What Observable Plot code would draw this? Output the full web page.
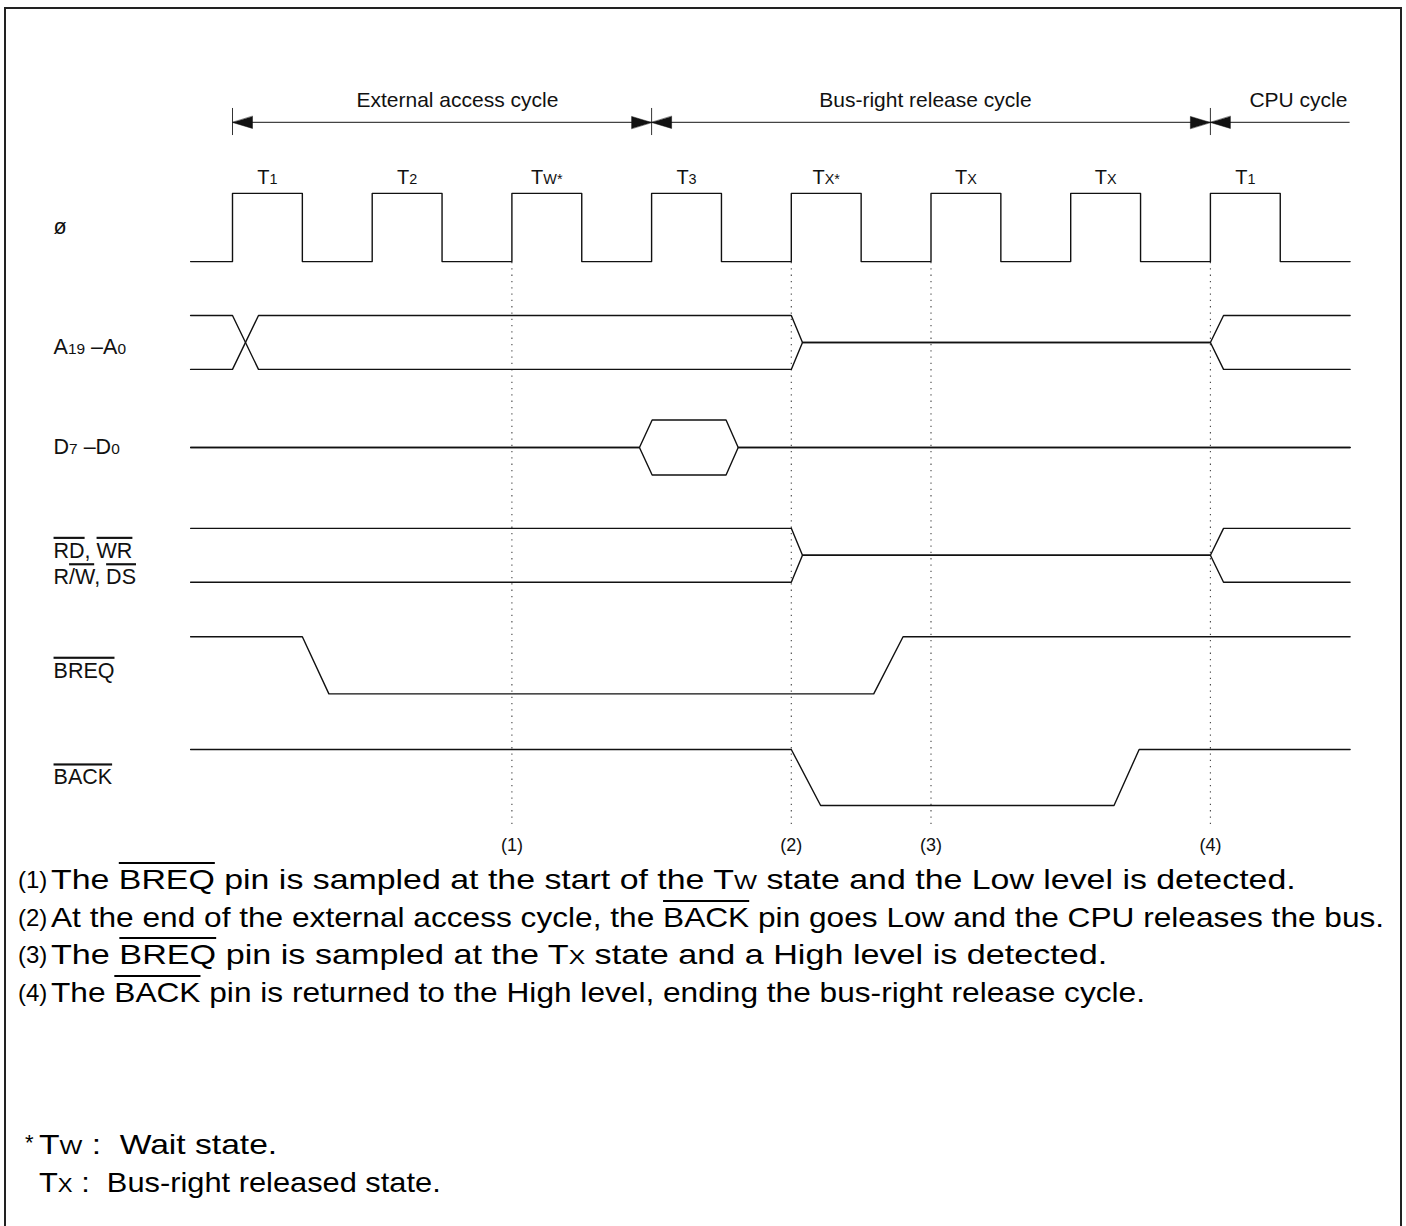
<!DOCTYPE html>
<html><head><meta charset="utf-8">
<script src="https://cdn.jsdelivr.net/npm/d3@7"></script>
<script src="https://cdn.jsdelivr.net/npm/@observablehq/plot@0.6"></script>
<style>
body{margin:0;background:#fff;font-family:"Liberation Sans",Arial,sans-serif;color:#000;}
#frame{position:absolute;left:4px;top:7px;width:1398px;height:1260px;border:2px solid #222;box-sizing:border-box;}
#chart{position:absolute;left:0;top:0;}
#notes{position:absolute;left:18px;top:861px;width:1380px;}
#foot{position:absolute;left:25px;top:1126px;width:1300px;}
.ln{position:relative;height:37.7px;line-height:37.7px;white-space:pre;}
.num{position:absolute;left:0;top:0;font-size:24px;}
.txt{position:absolute;top:0;font-size:28px;transform-origin:0 50%;}
.star{position:absolute;left:0;top:-2px;font-size:22px;}
.ov{text-decoration:overline;text-decoration-thickness:1.5px;}
.sm{font-size:0.72em;}
</style></head><body>
<div id="frame"></div>
<div id="chart"></div>
<div id="notes"></div>
<div id="foot"></div>
<script>
// ---- data (time in clock periods, rise of first T1 = 0) ----
const tStart = -0.3, tEnd = 8.0;
const clockRises = [0, 1, 2, 3, 4, 5, 6, 7];
const clockFalls = [0.5, 1.5, 2.5, 3.5, 4.5, 5.5, 6.5, 7.5];
const stateLabels = ["T~1~", "T~2~", "T~W*~", "T~3~", "T~X*~", "T~X~", "T~X~", "T~1~"];
const cycleNames = ["External access cycle", "Bus-right release cycle", "CPU cycle"];
const cycleBounds = [0, 3, 7];          // cycle boundaries (tick marks)
const cycleLabelT = [1.61, 4.96, 7.63]; // label centres
const signalNames = ["ø", "A~19~ –A~0~", "D~7~ –D~0~", "^RD^, ^WR^", "^BREQ^", "^BACK^"];
const signalNames2 = ["", "", "", "R^/W^, ^DS^", "", ""];
const laneCenter = [0, 1.045, 2.0, 2.98, 3.98, 5.0];
const laneSwing = [0.31, 0.245, 0.25, 0.245, 0.26, 0.255];
// level: 1 high, 0 low, 0.5 floating/middle
const addrHi = [[-0.3, 1], [0, 1], [0.186, 0], [4.0, 0], [4.08, 0.5], [7.0, 0.5], [7.094, 0], [8.0, 0]];
const addrLo = [[-0.3, 0], [0, 0], [0.186, 1], [4.0, 1], [4.08, 0.5], [7.0, 0.5], [7.094, 1], [8.0, 1]];
const dataHi = [[-0.3, 0.5], [2.913, 0.5], [3.004, 1], [3.533, 1], [3.62, 0.5], [8.0, 0.5]];
const dataLo = [[-0.3, 0.5], [2.913, 0.5], [3.004, 0], [3.533, 0], [3.62, 0.5], [8.0, 0.5]];
const strobeHi = [[-0.3, 1], [4.0, 1], [4.08, 0.5], [7.0, 0.5], [7.094, 1], [8.0, 1]];
const strobeLo = [[-0.3, 0], [4.0, 0], [4.08, 0.5], [7.0, 0.5], [7.094, 0], [8.0, 0]];
const breq = [[-0.3, 1], [0.5, 1], [0.69, 0], [4.59, 0], [4.8, 1], [8.0, 1]];
const back = [[-0.3, 1], [4.0, 1], [4.21, 0], [6.31, 0], [6.49, 1], [8.0, 1]];
const markerT = [2, 4, 5, 7];
const markerLabels = ["(1)", "(2)", "(3)", "(4)"];
const noteNums = ["(1)", "(2)", "(3)", "(4)"];
const notes = [
  "The ^BREQ^ pin is sampled at the start of the T~W~ state and the Low level is detected.",
  "At the end of the external access cycle, the ^BACK^ pin goes Low and the CPU releases the bus.",
  "The ^BREQ^ pin is sampled at the T~X~ state and a High level is detected.",
  "The ^BACK^ pin is returned to the High level, ending the bus-right release cycle."
];
const noteStretch = [1.21, 1.13, 1.22, 1.13];
const footStars = ["*", ""];
const footText = ["T~W~ :  Wait state.", "T~X~ :  Bus-right released state."];
const footStretch = [1.2, 1.1];

// ---- geometry of rows ----
const arrowY = -0.955, tickY1 = -1.082, tickY2 = -0.836, cycleLabelY = -1.155, stateLabelY = -0.455;
const dotY1 = 0.318, dotY2 = 5.436, markerLabelY = 5.62;

// build clock trace
const clock = [[tStart, 0]];
clockRises.forEach((r, i) => { clock.push([r, 0], [r, 1], [clockFalls[i], 1], [clockFalls[i], 0]); });
clock.push([tEnd, 0]);

const traces = [
  {lane: 0, pts: clock}, {lane: 1, pts: addrHi}, {lane: 1, pts: addrLo},
  {lane: 2, pts: dataHi}, {lane: 2, pts: dataLo}, {lane: 3, pts: strobeHi},
  {lane: 3, pts: strobeLo}, {lane: 4, pts: breq}, {lane: 5, pts: back}
];
const wave = traces.flatMap((tr, k) => tr.pts.map(([t, lv]) => ({
  key: k, t, y: laneCenter[tr.lane] - (lv - 0.5) * 2 * laneSwing[tr.lane]
})));

const heads = cycleBounds.flatMap((b, i) => {
  const h = [{t: b, dir: -90}];
  if (i > 0) h.unshift({t: b, dir: 90});
  return h;
});

const labelRows = [];
signalNames.forEach((s, i) => {
  if (signalNames2[i]) {
    labelRows.push({text: s, y: laneCenter[i] - 0.04});
    labelRows.push({text: signalNames2[i], y: laneCenter[i] + 0.2});
  } else labelRows.push({text: s, y: laneCenter[i] + (i === 1 ? 0.04 : 0) + (i === 4 ? 0.05 : 0)});
});

const headShape = {draw(ctx, l, r) { ctx.moveTo(0, -l); ctx.lineTo(-r, 0); ctx.lineTo(r, 0); ctx.closePath(); }};

const W = 1406, H = 870;
const chart = Plot.plot({
  width: W, height: H, margin: 0,
  x: {domain: [-232 / 139.7, (W - 232) / 139.7], range: [0, W], axis: null},
  y: {domain: [-227 / 110, (H - 227) / 110], range: [0, H], axis: null},
  style: {fontFamily: "'Liberation Sans', Arial, sans-serif", fontSize: "20px", background: "transparent", color: "#111"},
  marks: [
    Plot.ruleX(markerT, {x: d => d, y1: dotY1, y2: dotY2, stroke: "#444", strokeWidth: 1.1, strokeDasharray: "1.3,5"}),
    Plot.line(wave, {x: "t", y: "y", z: "key", stroke: "#111", strokeWidth: 1.4, curve: "linear"}),
    Plot.ruleY([arrowY], {x1: cycleBounds[0], x2: tEnd, stroke: "#444", strokeWidth: 1.3}),
    Plot.ruleX(cycleBounds, {x: d => d, y1: tickY1, y2: tickY2, stroke: "#333", strokeWidth: 1}),
    Plot.vector(heads, {x: "t", y: arrowY, rotate: "dir", anchor: "end", length: 20, r: 6, shape: headShape, fill: "#111", stroke: "#111", strokeWidth: 0.5}),
    Plot.text(cycleNames, {x: (d, i) => cycleLabelT[i], y: cycleLabelY, text: d => d, fontSize: 21, fill: "#111"}),
    Plot.text(stateLabels, {x: (d, i) => (clockRises[i] + clockFalls[i]) / 2, y: stateLabelY, text: d => d, fontSize: 20, fill: "#111"}),
    Plot.text(labelRows, {x: -1.281, y: "y", text: "text", textAnchor: "start", fontSize: 21.5, fill: "#111"}),
    Plot.text(markerLabels, {x: (d, i) => markerT[i], y: markerLabelY, text: d => d, fontSize: 18, fill: "#111"})
  ]
});
document.getElementById("chart").appendChild(chart);

// markup: ~ toggles small text, ^ toggles overline
function segments(s) {
  const out = []; let cur = "", sm = false, ov = false;
  for (const ch of s) {
    if (ch === "~" || ch === "^") {
      if (cur) out.push({t: cur, sm, ov}); cur = "";
      if (ch === "~") sm = !sm; else ov = !ov;
    } else cur += ch;
  }
  if (cur) out.push({t: cur, sm, ov});
  return out;
}
d3.select(chart).selectAll("text").each(function() {
  const s = this.textContent;
  if (!/[~^]/.test(s)) return;
  const el = d3.select(this); el.text(null);
  for (const seg of segments(s)) {
    const ts = el.append("tspan").text(seg.t);
    if (seg.sm) ts.attr("font-size", "0.72em");
    if (seg.ov) ts.style("text-decoration", "overline");
  }
});
function html(s) {
  return segments(s).map(seg => {
    const esc = seg.t.replace(/&/g, "&amp;").replace(/</g, "&lt;");
    const cls = [seg.sm ? "sm" : "", seg.ov ? "ov" : ""].filter(Boolean).join(" ");
    return cls ? `<span class="${cls}">${esc}</span>` : esc;
  }).join("");
}
document.getElementById("notes").innerHTML = notes.map((t, i) =>
  `<div class="ln"><span class="num">${noteNums[i]}</span><span class="txt" style="left:33px;transform:scaleX(${noteStretch[i]})">${html(t)}</span></div>`).join("");
document.getElementById("foot").innerHTML = footText.map((t, i) =>
  `<div class="ln"><span class="star">${footStars[i]}</span><span class="txt" style="left:14px;transform:scaleX(${footStretch[i]})">${html(t)}</span></div>`).join("");
</script>
</body></html>
